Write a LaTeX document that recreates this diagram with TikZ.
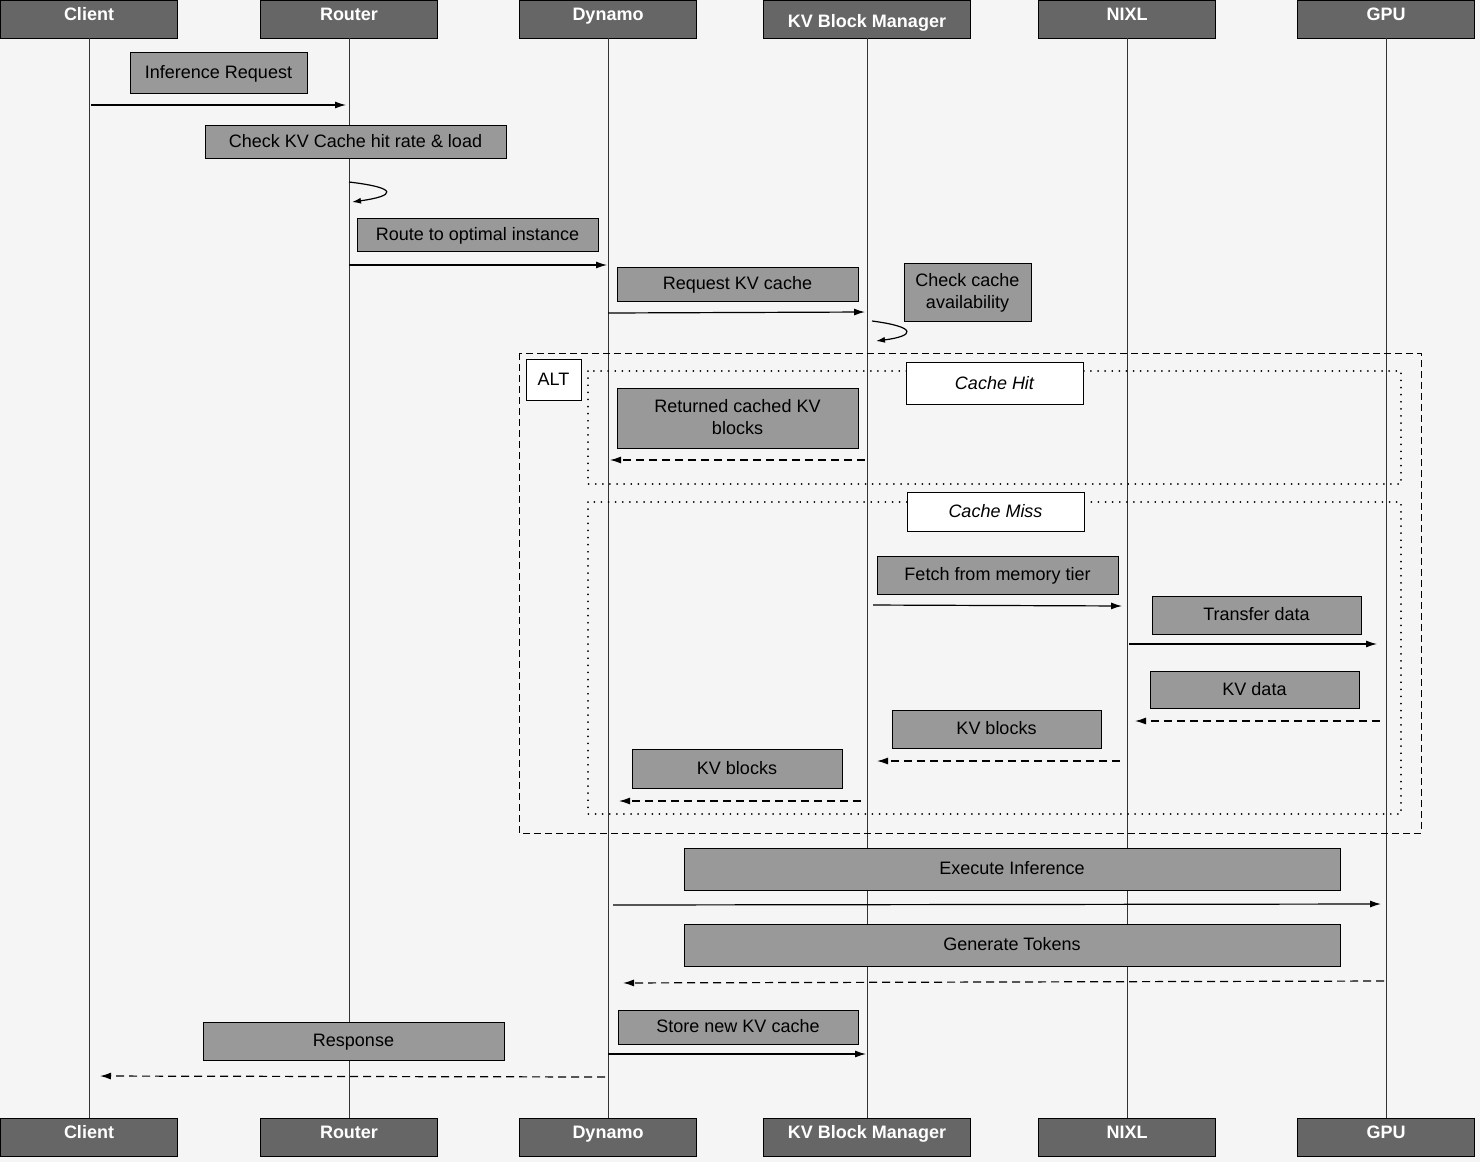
\documentclass[tikz,border=0pt]{standalone}
\usepackage{fontspec}
\setmainfont{Liberation Sans}
\usetikzlibrary{arrows.meta}
\definecolor{bgpaper}{HTML}{F5F5F5}
\definecolor{headgray}{HTML}{666666}
\definecolor{notegray}{HTML}{999999}

\tikzset{
  head/.style={draw=black, fill=headgray, minimum height=38pt, inner sep=0pt},
  headtext/.style={text=white, inner sep=0pt, anchor=base, font=\fontsize{18}{20}\selectfont\bfseries},
  note/.style={draw=black, fill=notegray, inner sep=0pt, align=center, text depth=2pt, font=\fontsize{18}{22}\selectfont},
  tag/.style={draw=black, fill=white, inner sep=0pt, font=\fontsize{18}{20}\selectfont\itshape},
  msg/.style={-{Latex[length=11pt,width=7pt]}, line width=1.2pt},
  reply/.style={msg, dash pattern=on 8pt off 5pt},
  life/.style={line width=0.9pt, black!80}
}

\begin{document}
\begin{tikzpicture}[x=1pt, y=-1pt]
        \fill[bgpaper] (0,0) rectangle (1480,1162);
        \useasboundingbox (0,0) rectangle (1480,1162);

        % participants, top and bottom
        \foreach \name/\lbl/\x/\w/\ty in {client/Client/89/177/20, router/Router/349/177/20, dynamo/Dynamo/608/177/20, kvbm/KV Block Manager/867/207/27, nixl/NIXL/1127/177/20, gpu/GPU/1386/177/20} {
          \node[head, minimum width=\w pt, anchor=north] (\name) at (\x,0) {};
          \node[head, minimum width=\w pt, anchor=north] (\name b) at (\x,1118) {};
          \node[headtext] at (\x,\ty) {\lbl};
          \node[headtext] at (\x,1138) {\lbl};
          \draw[life] (\name.south) -- (\name b.north);
        }

        % alt frame
        \draw[line width=0.9pt, dash pattern=on 7pt off 4pt] (519,353) rectangle (1421,833);
        \node[draw, fill=white, minimum width=55pt, minimum height=41pt, inner sep=0pt, font=\fontsize{18}{20}\selectfont] (alt) at (553.5,379.5) {ALT};
        \draw[line width=1.8pt, dash pattern=on 0.1pt off 7pt, line cap=round] (588,371) rectangle (1401,484);
        \draw[line width=1.8pt, dash pattern=on 0.1pt off 7pt, line cap=round] (588,502) rectangle (1401,814);
        \node[tag, minimum width=177pt, minimum height=42pt] (hit) at (994.5,383) {Cache Hit};
        \node[tag, minimum width=177pt, minimum height=39pt] (miss) at (995.5,511.5) {Cache Miss};

        % notes
        \node[note, minimum width=177pt, minimum height=41pt] (n1) at (218.5,72.5) {Inference Request};
        \node[note, minimum width=301pt, minimum height=33pt] (n2) at (355.5,142) {Check KV Cache hit rate \& load};
        \node[note, minimum width=241pt, minimum height=33pt] (n3) at (477.5,235) {Route to optimal instance};
        \node[note, minimum width=241pt, minimum height=34pt] (n4) at (737.5,284) {Request KV cache};
        \node[note, minimum width=127pt, minimum height=58pt] (n5) at (967.5,292) {Check cache\\availability};
        \node[note, minimum width=241pt, minimum height=60pt] (n6) at (737.5,418) {Returned cached KV\\blocks};
        \node[note, minimum width=241pt, minimum height=38pt] (n7) at (997.5,575) {Fetch from memory tier};
        \node[note, minimum width=209pt, minimum height=38pt] (n8) at (1256.5,615) {Transfer data};
        \node[note, minimum width=209pt, minimum height=37pt] (n9) at (1254.5,689.5) {KV data};
        \node[note, minimum width=209pt, minimum height=38pt] (n10) at (996.5,729) {KV blocks};
        \node[note, minimum width=210pt, minimum height=39pt] (n11) at (737,768.5) {KV blocks};
        \node[note, minimum width=656pt, minimum height=42pt] (n12) at (1012,869) {Execute Inference};
        \node[note, minimum width=656pt, minimum height=42pt] (n13) at (1012,945) {Generate Tokens};
        \node[note, minimum width=240pt, minimum height=34pt] (n14) at (738,1027) {Store new KV cache};
        \node[note, minimum width=301pt, minimum height=38pt] (n15) at (353.5,1041) {Response};

        % messages
        \draw[msg, shorten <=2pt, shorten >=3pt] (client |- 0,105) -- (router |- 0,105);
        \draw[line width=1.2pt, -{Latex[length=9pt,width=6pt]}] (router |- 0,182) .. controls (400,188) and (395,196) .. ([xshift=3pt]router |- 0,202);
        \draw[msg, shorten >=1pt] (router |- 0,265) -- (dynamo |- 0,265);
        \draw[msg, shorten >=2pt] (dynamo |- 0,313) -- (kvbm |- 0,312);
        \draw[line width=1.2pt, -{Latex[length=9pt,width=6pt]}] ([xshift=5pt]kvbm |- 0,321) .. controls (918,327) and (915,336) .. ([xshift=9pt]kvbm |- 0,341);
        \draw[reply, shorten <=2pt, shorten >=2pt] (kvbm |- 0,460) -- (dynamo |- 0,460);
        \draw[msg, shorten <=6pt, shorten >=5pt] (kvbm |- 0,605) -- (nixl |- 0,606);
        \draw[msg, shorten <=2pt, shorten >=9pt] (nixl |- 0,644) -- (gpu |- 0,644);
        \draw[reply, shorten <=6pt, shorten >=8pt] (gpu |- 0,721) -- (nixl |- 0,721);
        \draw[reply, shorten <=7pt, shorten >=10pt] (nixl |- 0,761) -- (kvbm |- 0,761);
        \draw[reply, shorten <=6pt, shorten >=11pt] (kvbm |- 0,801) -- (dynamo |- 0,801);
        \draw[msg, shorten <=5pt, shorten >=5pt] (dynamo |- 0,905) -- (gpu |- 0,904);
        \draw[reply, shorten <=2pt, shorten >=15pt] (gpu |- 0,981) -- (dynamo |- 0,983);
        \draw[msg, shorten >=1pt] (dynamo |- 0,1054) -- (kvbm |- 0,1054);
        \draw[reply, shorten <=3pt, shorten >=11pt] (dynamo |- 0,1077) -- (client |- 0,1076);
      \end{tikzpicture}
\end{document}
